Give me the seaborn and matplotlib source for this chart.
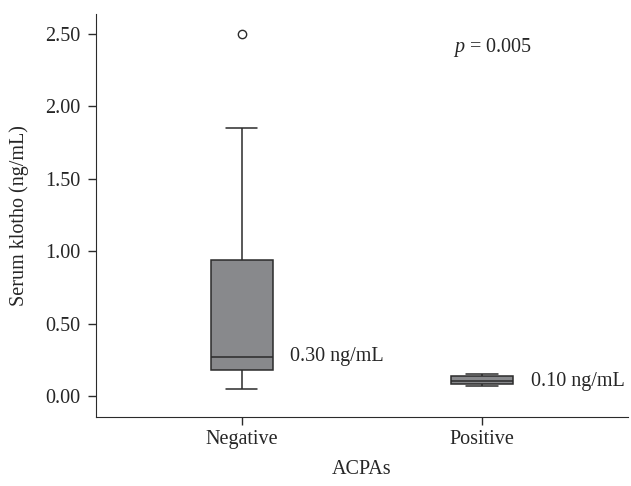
import pandas as pd
import matplotlib.pyplot as plt
import seaborn as sns

# valores (ng/mL)
negative_vals = [0.05, 0.10, 0.18, 0.22, 0.27, 0.60, 0.94, 1.85, 2.50]
positive_vals = [0.07, 0.085, 0.105, 0.135, 0.15]
groups = ["Negative", "Positive"]
median_labels = ["0.30 ng/mL", "0.10 ng/mL"]
yticks = [0.0, 0.5, 1.0, 1.5, 2.0, 2.5]

df = pd.DataFrame({
    "ACPAs": [groups[0]] * len(negative_vals) + [groups[1]] * len(positive_vals),
    "klotho": negative_vals + positive_vals,
})

sns.set_style("ticks")
plt.rcParams['font.family'] = ['Liberation Serif', 'DejaVu Serif']
plt.rcParams['mathtext.fontset'] = 'custom'
plt.rcParams['mathtext.it'] = 'Liberation Serif:italic'
plt.rcParams['mathtext.rm'] = 'Liberation Serif'

fs = 14.5
fig = plt.figure(figsize=(6.31, 4.86), dpi=100)
ax = fig.add_axes([0.152, 0.142, 0.843, 0.829])

sns.boxplot(data=df, x="ACPAs", y="klotho", order=groups, ax=ax, width=0.26,
            color="#88898c", saturation=1, linecolor="#2b2b2b", linewidth=1.1,
            flierprops=dict(marker="o", markersize=6, markerfacecolor="white",
                            markeredgecolor="#2b2b2b"))

ax.set_xlim(-0.608, 1.608)
ax.set_ylim(-0.145, 2.638)
ax.set_yticks(yticks)
ax.set_yticklabels([f"{t:.2f}" for t in yticks])
ax.tick_params(labelsize=fs, length=6, width=1, color="#2b2b2b")
ax.tick_params(axis="y", pad=5)
sns.despine(ax=ax)
for s in ["left", "bottom"]:
    ax.spines[s].set_color("#2b2b2b")

ax.set_xlabel("ACPAs", fontsize=fs, labelpad=8)
ax.set_ylabel("Serum klotho (ng/mL)", fontsize=fs, labelpad=12)

# etiquetas de la mediana
ax.text(0.2, 0.27, median_labels[0], fontsize=fs, va="center")
ax.text(1.204, 0.097, median_labels[1], fontsize=fs, va="center")
ax.text(0.88, 2.41, r"$p$ = 0.005", fontsize=fs, va="center")

fig.savefig("out.png", dpi=100)
